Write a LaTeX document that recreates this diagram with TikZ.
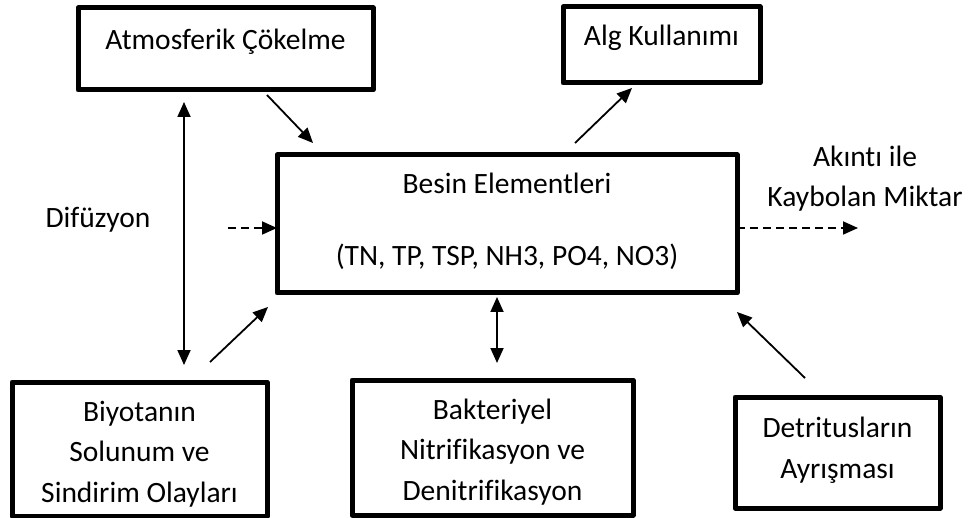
\documentclass[tikz,border=0pt]{standalone}
\usepackage{fontspec}
\setmainfont{Carlito}[Ligatures=NoCommon]
\usetikzlibrary{arrows.meta,calc}
\begin{document}
\begin{tikzpicture}[x=1pt,y=-1pt,
  box/.style={draw, line width=5pt, line join=round, inner sep=0pt, outer sep=0pt},
  txt/.style={font=\fontsize{29.5}{40.5}\selectfont, anchor=base, align=center, inner sep=0pt},
  arr/.style={line width=1.8pt, -{Triangle[length=15pt,width=13pt]}},
  dbl/.style={line width=1.8pt, {Triangle[length=15pt,width=13pt]}-{Triangle[length=15pt,width=13pt]}},
  dsh/.style={line width=1.8pt, dash pattern=on 8pt off 5pt, -{Triangle[length=15pt,width=13pt]}}]
\useasboundingbox (0,0) rectangle (971,518);

% boxes
\node[box, minimum width=295pt, minimum height=82pt] (atmos) at (225.5,49) {};
\node[box, minimum width=197pt, minimum height=76pt] (alg) at (661.5,45) {};
\node[box, minimum width=460pt, minimum height=138pt] (besin) at (507,224) {};
\node[box, minimum width=255pt, minimum height=134pt] (biyo) at (139.5,449) {};
\node[box, minimum width=281pt, minimum height=135pt] (bakt) at (492.5,447.5) {};
\node[box, minimum width=205pt, minimum height=111pt] (detr) at (837.5,452.5) {};

% texts (multi-line nodes are anchored on their last baseline)
\node[txt] (atmostxt) at (225.5,50) {Atmosferik Çökelme};
\node[txt] (algtxt) at (661.5,46) {Alg Kullanımı};
\node[txt] (besintxt) at (507,194) {Besin Elementleri};
\node[txt] (besinlist) at (507,266) {(TN, TP, TSP, NH3, PO4, NO3)};
\node[txt] (biyotxt) at (139.5,502) {Biyotanın\\Solunum ve\\Sindirim Olayları};
\node[txt] (bakttxt) at (492.5,500) {Bakteriyel\\Nitrifikasyon ve\\Denitrifikasyon};
\node[txt] (detrtxt) at (837.5,478) {Detritusların\\Ayrışması};
\node[txt] (akinti) at (865,207) {Akıntı ile\\Kaybolan Miktar};
\node[txt] (difuz) at (98,228) {Difüzyon};

% free ends of the dashed arrows
\coordinate (difin) at (228,228);
\coordinate (akout) at (858,228);

% connectors
\draw[arr] ([xshift=41.5pt,yshift=-5pt]atmos.south) -- ([xshift=36pt,yshift=12pt]besin.north west);
\draw[arr] ([xshift=68pt,yshift=12pt]besin.north) -- ([xshift=69pt,yshift=-5pt]alg.south west);
\draw[dbl] ([xshift=106pt,yshift=-12pt]atmos.south west) -- ([xshift=44.5pt,yshift=17pt]biyo.north);
\draw[arr] ([xshift=-57pt,yshift=20pt]biyo.north east) -- ([xshift=-9pt,yshift=-14pt]besin.south west);
\draw[dbl] ([xshift=-10pt,yshift=-4pt]besin.south) -- ([xshift=4.5pt,yshift=17pt]bakt.north);
\draw[arr] ([xshift=-32.5pt,yshift=19pt]detr.north) -- ([yshift=-19pt]besin.south east);
\draw[dsh] (difin) -- ([yshift=-4pt]besin.west);
\draw[dsh] ([yshift=-4pt]besin.east) -- (akout);
\end{tikzpicture}
\end{document}
